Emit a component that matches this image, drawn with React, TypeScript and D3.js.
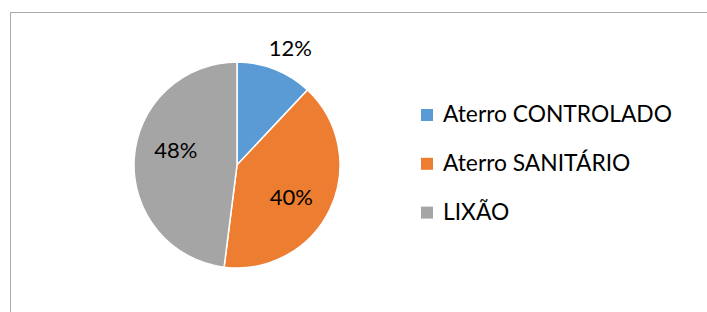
import { useEffect, useRef } from "react";
import * as d3 from "d3";

const categories = ["Aterro CONTROLADO", "Aterro SANITÁRIO", "LIXÃO"];
const values = [12, 40, 48];
const colors = ["#5B9BD5", "#ED7D31", "#A5A5A5"];

const WIDTH = 707;
const HEIGHT = 312;
const FONT = "Lato, 'Open Sans', sans-serif";

export default function App() {
  const ref = useRef<SVGSVGElement>(null);

  useEffect(() => {
    if (!ref.current) return;
    const svg = d3.select(ref.current);
    svg.selectAll("*").remove();

    svg.attr("width", WIDTH).attr("height", HEIGHT);

    svg.append("rect").attr("width", WIDTH).attr("height", HEIGHT).attr("fill", "#fff");

    // chart area border (cropped: only top and left edges visible)
    svg
      .append("rect")
      .attr("x", 10.5)
      .attr("y", 12.5)
      .attr("width", WIDTH)
      .attr("height", HEIGHT)
      .attr("fill", "none")
      .attr("stroke", "#ABABAB")
      .attr("stroke-width", 1);

    const cx = 237;
    const cy = 165;
    const radius = 103;

    const data = categories.map((c, i) => ({ name: c, value: values[i], color: colors[i] }));

    const pie = d3
      .pie<(typeof data)[0]>()
      .value((d) => d.value)
      .sort(null);

    const arcs = pie(data);

    const arc = d3.arc<d3.PieArcDatum<(typeof data)[0]>>().innerRadius(0).outerRadius(radius);

    const chart = svg.append("g").attr("transform", `translate(${cx},${cy})`);

    chart
      .selectAll("path")
      .data(arcs)
      .enter()
      .append("path")
      .attr("d", arc)
      .attr("fill", (d) => d.data.color)
      .attr("stroke", "#fff")
      .attr("stroke-width", 1.5);

    // data labels: small slice outside, big ones inside
    const total = d3.sum(values);
    const labelAngleShift = [0.05, 0.09, 0.18];
    chart
      .selectAll(".label")
      .data(arcs)
      .enter()
      .append("text")
      .attr("class", "label")
      .attr("transform", (d, i) => {
        const a = (d.startAngle + d.endAngle) / 2 + labelAngleShift[i];
        const r = d.value / total < 0.2 ? 129 : 63;
        return `translate(${Math.sin(a) * r},${-Math.cos(a) * r})`;
      })
      .attr("text-anchor", "middle")
      .attr("dy", "0.36em")
      .attr("font-family", FONT)
      .attr("font-size", 22)
      .attr("fill", "#000")
      .text((d) => `${Math.round((d.value / total) * 100)}%`);

    // Legend
    const legend = svg.append("g").attr("transform", "translate(421, 114)");
    data.forEach((d, i) => {
      const row = legend.append("g").attr("transform", `translate(0, ${i * 48.8})`);
      row.append("rect").attr("x", 0).attr("y", -5).attr("width", 12).attr("height", 12).attr("fill", d.color);
      row
        .append("text")
        .attr("x", 22)
        .attr("y", 0)
        .attr("dy", "0.36em")
        .attr("font-family", FONT)
        .attr("font-size", 22.8)
        .attr("fill", "#000")
        .text(d.name);
    });
  }, []);

  return (
    <div style={{ position: "absolute", left: 0, top: 0 }}>
      <svg ref={ref} style={{ display: "block" }} />
    </div>
  );
}
